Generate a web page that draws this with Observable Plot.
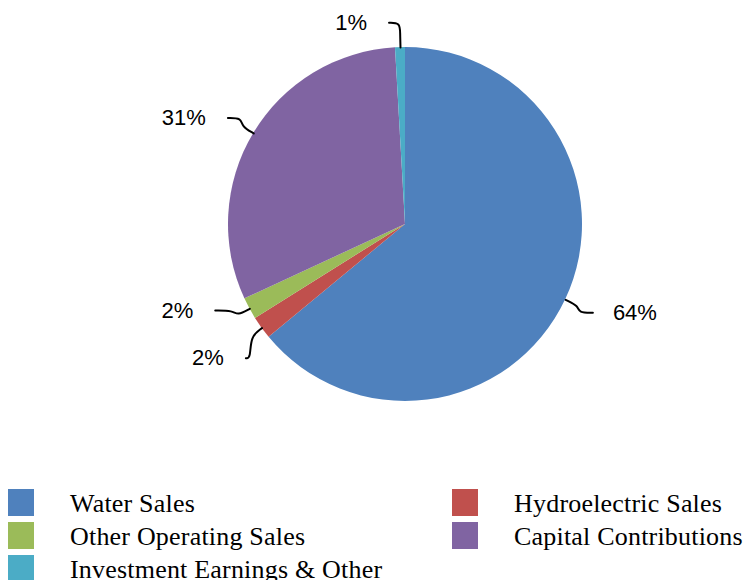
<!DOCTYPE html>
<html>
<head>
<meta charset="utf-8">
<script src="https://cdn.jsdelivr.net/npm/d3@7"></script>
<script src="https://cdn.jsdelivr.net/npm/@observablehq/plot@0.6"></script>
<style>
  html, body { margin: 0; padding: 0; background: #fff; overflow: hidden; }
  #wrap { position: relative; width: 746px; height: 580px; }
  #legend { position: absolute; left: 0; top: 0; width: 746px; height: 580px; pointer-events: none;
            font-family: "Liberation Serif", "Times New Roman", serif; font-size: 26px; letter-spacing: 0.2px; color: #000; }
  .item { position: absolute; display: flex; align-items: center; height: 27px; white-space: nowrap; }
  .sw { width: 26px; height: 27px; margin-right: 36px; flex: none; }
  .tx { position: relative; top: 1px; }
</style>
</head>
<body>
<div id="wrap"><div id="chart"></div><div id="legend"></div></div>
<script>
// ---- data ----
const categories = ["Water Sales", "Hydroelectric Sales", "Other Operating Sales", "Capital Contributions", "Investment Earnings & Other"];
const shares = [64.0, 2.1, 2.0, 31.0, 0.9];
const colors = ["#4F81BD", "#C0504D", "#9BBB59", "#8064A2", "#4BACC6"];

const data = categories.map((c, i) => ({category: c, value: shares[i]}));
const color = d3.scaleOrdinal(categories, colors);

// pie geometry in unit coordinates (0 at 12 o'clock, clockwise)
const arcs = d3.pie().sort(null).value(d => d.value)(data);
const R_END = 1.17, GAP = 0.27, TOP = 1.14;
const labels = arcs.map(a => {
  const mid = (a.startAngle + a.endAngle) / 2;
  const ax = Math.sin(mid), ay = Math.cos(mid);
  return {category: a.data.category, text: Math.round(a.data.value) + "%",
          side: ax < 0 ? -1 : 1, ax, ay, ex: R_END * ax, ey: R_END * ay, moved: false};
});
// spread labels vertically on each side
for (const side of [-1, 1]) {
  const grp = labels.filter(l => l.side === side).sort((a, b) => b.ey - a.ey);
  for (let it = 0; it < 60; it++) {
    for (let i = 1; i < grp.length; i++) {
      const d = grp[i - 1].ey - grp[i].ey;
      if (d < GAP) {
        const s = (GAP - d) / 2;
        grp[i - 1].ey += s; grp[i].ey -= s;
        grp[i - 1].moved = grp[i].moved = true;
      }
    }
  }
}
for (const l of labels) {
  if (l.moved && Math.abs(l.ey) < R_END) l.ex = l.side * Math.sqrt(R_END * R_END - l.ey * l.ey) * 1.01;
  if (l.ey > TOP) { l.ey = TOP; l.ex += l.side * 0.06; }
}
// leader line control points
const leaders = [];
for (const l of labels) {
  const A = [l.ax * 1.08, l.ay * 1.08];
  let bx = l.ex - l.side * 0.1;
  bx = l.side < 0 ? Math.min(bx, A[0]) : Math.max(bx, A[0]);
  [[l.ax, l.ay], A, [bx, l.ey], [l.ex, l.ey]].forEach(p => leaders.push({key: l.category, x: p[0], y: p[1]}));
}

function pieMark(index, scales) {
  const cx = scales.x(0), cy = scales.y(0), r = scales.x(1) - scales.x(0);
  const g = d3.create("svg:g").attr("transform", `translate(${cx},${cy})`);
  g.selectAll("path").data(arcs).join("path")
    .attr("d", d3.arc().innerRadius(0).outerRadius(r))
    .attr("fill", d => color(d.data.category));
  return g.node();
}

const chart = Plot.plot({
  width: 746, height: 480, margin: 0,
  x: {domain: [-1, 1], range: [228, 582], axis: null},
  y: {domain: [-1, 1], range: [401, 47], axis: null},
  marks: [
    pieMark,
    Plot.line(leaders, {x: "x", y: "y", z: "key", curve: "basis", stroke: "#000", strokeWidth: 2}),
    Plot.text(labels.filter(l => l.side < 0), {x: "ex", y: "ey", text: "text", textAnchor: "end", dx: -22,
      fontSize: 22, fontFamily: "Liberation Sans, Arial, sans-serif", fill: "#000"}),
    Plot.text(labels.filter(l => l.side > 0), {x: "ex", y: "ey", text: "text", textAnchor: "start", dx: 20,
      fontSize: 22, fontFamily: "Liberation Sans, Arial, sans-serif", fill: "#000"})
  ]
});
document.getElementById("chart").appendChild(chart);

// legend (HTML, below the svg area)
const legend = document.getElementById("legend");
categories.forEach((c, i) => {
  const col = i % 2, row = Math.floor(i / 2);
  const it = document.createElement("div");
  it.className = "item";
  it.style.left = (col ? 452 : 8) + "px";
  it.style.top = (489 + row * 33) + "px";
  const sw = document.createElement("span");
  sw.className = "sw"; sw.style.background = color(c);
  const tx = document.createElement("span");
  tx.className = "tx";
  tx.textContent = c;
  it.appendChild(sw); it.appendChild(tx);
  legend.appendChild(it);
});
</script>
</body>
</html>
